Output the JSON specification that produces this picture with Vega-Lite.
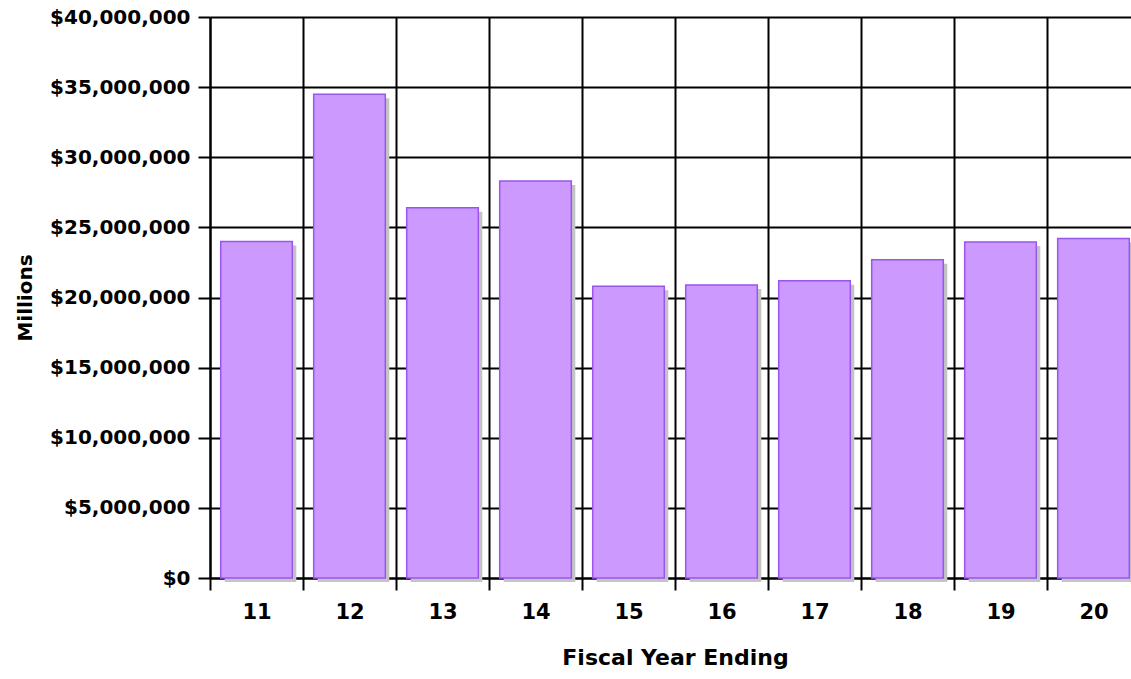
{
  "$schema": "https://vega.github.io/schema/vega-lite/v6.json",
  "autosize": "none",
  "padding": {"left": 210, "top": 17, "right": 0, "bottom": 101},
  "width": 930,
  "height": 561,
  "background": "white",
  "data": {
    "values": [
      {"year": "11", "value": 24000000},
      {"year": "12", "value": 34500000},
      {"year": "13", "value": 26400000},
      {"year": "14", "value": 28300000},
      {"year": "15", "value": 20800000},
      {"year": "16", "value": 20900000},
      {"year": "17", "value": 21200000},
      {"year": "18", "value": 22700000},
      {"year": "19", "value": 23950000},
      {"year": "20", "value": 24200000}
    ]
  },
  "config": {
    "view": {"stroke": null},
    "axis": {
      "labelFont": "DejaVu Sans",
      "labelFontWeight": "bold",
      "labelColor": "black",
      "titleFont": "DejaVu Sans",
      "titleFontWeight": "bold",
      "titleColor": "black",
      "domainColor": "black",
      "domainWidth": 2,
      "tickColor": "black",
      "tickWidth": 2,
      "tickSize": 12,
      "gridColor": "black",
      "gridWidth": 2,
      "gridOpacity": 1
    }
  },
  "encoding": {
    "x": {
      "field": "year",
      "type": "nominal",
      "sort": null,
      "scale": {"paddingInner": 0, "paddingOuter": 0},
      "axis": {
        "title": "Fiscal Year Ending",
        "labelAngle": 0,
        "labelFontSize": 21,
        "labelPadding": 11,
        "titleFontSize": 22,
        "titlePadding": 25,
        "tickBand": "extent",
        "grid": true
      }
    },
    "y": {
      "field": "value",
      "type": "quantitative",
      "scale": {"domain": [0, 40000000], "nice": false},
      "axis": {
        "title": "Millions",
        "values": [0, 5000000, 10000000, 15000000, 20000000, 25000000, 30000000, 35000000, 40000000],
        "format": "$,.0f",
        "labelFontSize": 20,
        "labelPadding": 8,
        "titleFontSize": 20,
        "titlePadding": 14,
        "grid": true
      }
    }
  },
  "layer": [
    {
      "mark": {"type": "bar", "color": "#c4c4c4", "width": {"band": 0.77}, "xOffset": 4, "yOffset": 4, "y2Offset": 0}
    },
    {
      "mark": {"type": "bar", "fill": "#cc99ff", "stroke": "#9955ee", "strokeWidth": 1.5, "width": {"band": 0.77}}
    }
  ]
}
